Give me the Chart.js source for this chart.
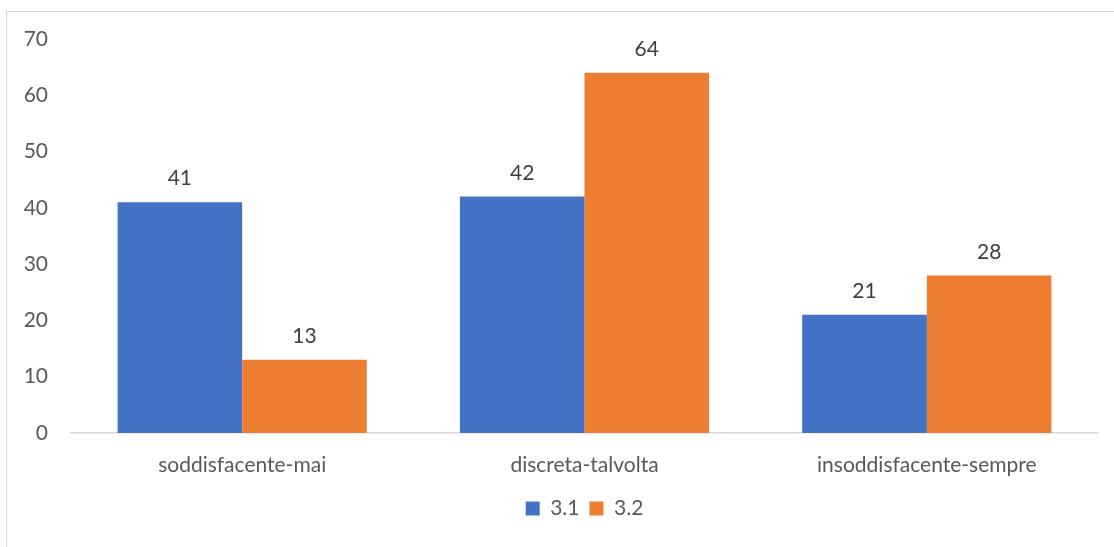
<!DOCTYPE html>
<html lang="en">
<head>
    <meta charset="UTF-8">
    <title>Chart</title>
    <script src="https://cdn.jsdelivr.net/npm/chart.js"></script>
    <style>
        html, body { margin: 0; padding: 0; background: #ffffff; }
        #frame {
            position: absolute;
            left: 6px;
            top: 11px;
            width: 1200px;
            height: 700px;
            border: 1px solid #d9d9d9;
        }
        #wrap {
            position: absolute;
            left: 0;
            top: 0;
            width: 1114px;
            height: 547px;
        }
    </style>
</head>
<body>
    <div id="frame"></div>
    <div id="wrap"><canvas id="chart"></canvas></div>

    <script>
        const categories = ["soddisfacente-mai", "discreta-talvolta", "insoddisfacente-sempre"];
        const seriesNames = ["3.1", "3.2"];
        const values31 = [41, 42, 21];
        const values32 = [13, 64, 28];
        const yTicks = [0, 10, 20, 30, 40, 50, 60, 70];

        const FONT = "Lato, 'Open Sans', sans-serif";
        const SIZE = 21;

        // draws the value above each bar
        const barLabels = {
            id: "barLabels",
            afterDatasetsDraw(chart) {
                const ctx = chart.ctx;
                ctx.save();
                ctx.font = SIZE + "px " + FONT;
                ctx.fillStyle = "#404040";
                ctx.textAlign = "center";
                ctx.textBaseline = "bottom";
                chart.data.datasets.forEach((ds, i) => {
                    chart.getDatasetMeta(i).data.forEach((bar, j) => {
                        ctx.fillText(String(ds.data[j]), bar.x, bar.y - 13);
                    });
                });
                ctx.restore();
            }
        };

        new Chart(document.getElementById("chart").getContext("2d"), {
            type: "bar",
            data: {
                labels: categories,
                datasets: [
                    {
                        label: seriesNames[0],
                        data: values31,
                        backgroundColor: "#4472C4",
                    },
                    {
                        label: seriesNames[1],
                        data: values32,
                        backgroundColor: "#ED7D31",
                    }
                ]
            },
            options: {
                responsive: true,
                maintainAspectRatio: false,
                animation: false,
                layout: {
                    padding: { left: 0, right: 16, top: 39, bottom: 18 }
                },
                datasets: {
                    bar: { barPercentage: 1, categoryPercentage: 0.728 }
                },
                plugins: {
                    legend: {
                        position: "bottom",
                        fullSize: false,
                        labels: {
                            font: { family: FONT, size: SIZE },
                            color: "#595959",
                            boxWidth: 14,
                            boxHeight: 14,
                            padding: 10
                        }
                    },
                    tooltip: { enabled: false }
                },
                scales: {
                    x: {
                        grid: { display: false, drawTicks: false },
                        border: { display: true, color: "#d9d9d9", width: 1.5 },
                        ticks: {
                            font: { family: FONT, size: SIZE },
                            color: "#595959",
                            padding: 20,
                            maxRotation: 0
                        },
                        afterFit(scale) { scale.height = 55; }
                    },
                    y: {
                        min: 0,
                        max: 70,
                        afterBuildTicks(scale) {
                            scale.ticks = yTicks.map(v => ({ value: v }));
                        },
                        grid: { display: false, drawTicks: false },
                        border: { display: false },
                        ticks: {
                            font: { family: FONT, size: SIZE },
                            color: "#595959",
                            padding: 23
                        },
                        afterFit(scale) { scale.width = 71; }
                    }
                }
            },
            plugins: [barLabels]
        });
    </script>
</body>
</html>
